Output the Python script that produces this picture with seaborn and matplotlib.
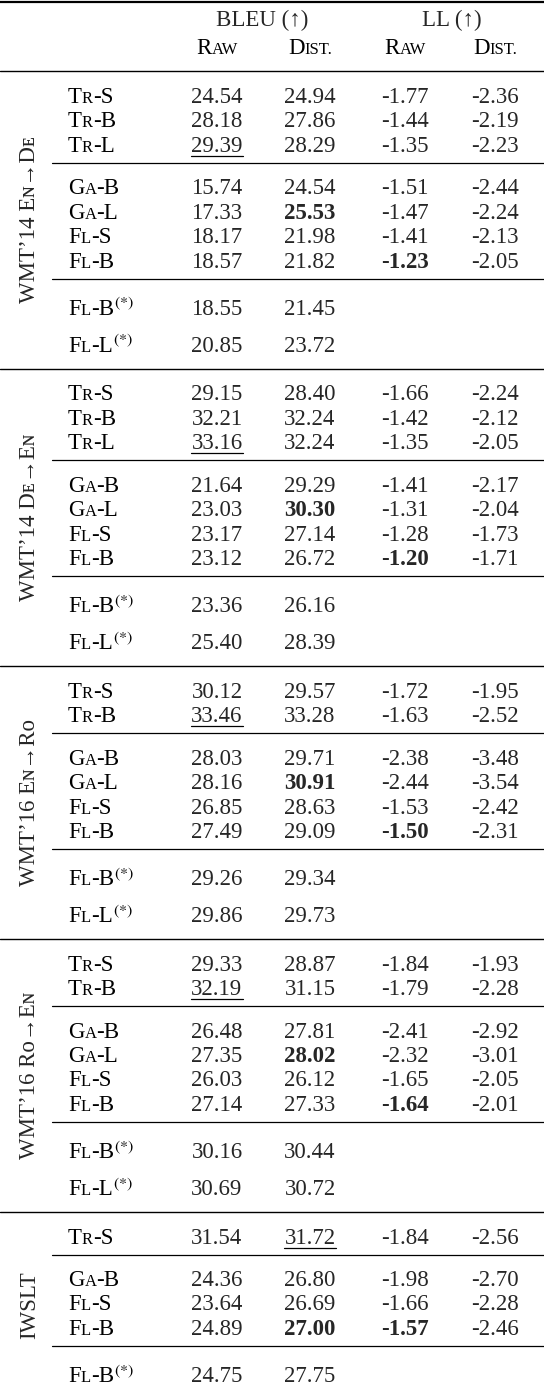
import matplotlib
matplotlib.use("Agg")
import matplotlib.pyplot as plt
import seaborn as sns

sns.set_theme(style="white")
plt.rcParams['font.family'] = ['Liberation Serif', 'DejaVu Serif', 'DejaVu Sans']
plt.rcParams['mathtext.fontset'] = 'stix'

# ---- data ----
sec_titles = ["WMT’14 Eɴ→Dᴇ", "WMT’14 Dᴇ→Eɴ", "WMT’16 Eɴ→Rᴏ", "WMT’16 Rᴏ→Eɴ", "IWSLT"]

s1_groups = [["TR-S", "TR-B", "TR-L"], ["GA-B", "GA-L", "FL-S", "FL-B"], ["FL-B*", "FL-L*"]]
s1_bleu_raw = [24.54, 28.18, 29.39, 15.74, 17.33, 18.17, 18.57, 18.55, 20.85]
s1_bleu_dist = [24.94, 27.86, 28.29, 24.54, 25.53, 21.98, 21.82, 21.45, 23.72]
s1_ll_raw = [-1.77, -1.44, -1.35, -1.51, -1.47, -1.41, -1.23, None, None]
s1_ll_dist = [-2.36, -2.19, -2.23, -2.44, -2.24, -2.13, -2.05, None, None]

s2_groups = s1_groups
s2_bleu_raw = [29.15, 32.21, 33.16, 21.64, 23.03, 23.17, 23.12, 23.36, 25.40]
s2_bleu_dist = [28.40, 32.24, 32.24, 29.29, 30.30, 27.14, 26.72, 26.16, 28.39]
s2_ll_raw = [-1.66, -1.42, -1.35, -1.41, -1.31, -1.28, -1.20, None, None]
s2_ll_dist = [-2.24, -2.12, -2.05, -2.17, -2.04, -1.73, -1.71, None, None]

s3_groups = [["TR-S", "TR-B"], ["GA-B", "GA-L", "FL-S", "FL-B"], ["FL-B*", "FL-L*"]]
s3_bleu_raw = [30.12, 33.46, 28.03, 28.16, 26.85, 27.49, 29.26, 29.86]
s3_bleu_dist = [29.57, 33.28, 29.71, 30.91, 28.63, 29.09, 29.34, 29.73]
s3_ll_raw = [-1.72, -1.63, -2.38, -2.44, -1.53, -1.50, None, None]
s3_ll_dist = [-1.95, -2.52, -3.48, -3.54, -2.42, -2.31, None, None]

s4_groups = s3_groups
s4_bleu_raw = [29.33, 32.19, 26.48, 27.35, 26.03, 27.14, 30.16, 30.69]
s4_bleu_dist = [28.87, 31.15, 27.81, 28.02, 26.12, 27.33, 30.44, 30.72]
s4_ll_raw = [-1.84, -1.79, -2.41, -2.32, -1.65, -1.64, None, None]
s4_ll_dist = [-1.93, -2.28, -2.92, -3.01, -2.05, -2.01, None, None]

s5_groups = [["TR-S"], ["GA-B", "FL-S", "FL-B"], ["FL-B*"]]
s5_bleu_raw = [31.54, 24.36, 23.64, 24.89, 24.75]
s5_bleu_dist = [31.72, 26.80, 26.69, 27.00, 27.75]
s5_ll_raw = [-1.84, -1.98, -1.66, -1.57, None]
s5_ll_dist = [-2.56, -2.70, -2.28, -2.46, None]

# emphasis: (column index, row index)
s1_under = [(0, 2)]; s1_bold = [(1, 4), (2, 6)]
s2_under = [(0, 2)]; s2_bold = [(1, 4), (2, 6)]
s3_under = [(0, 1)]; s3_bold = [(1, 3), (2, 5)]
s4_under = [(0, 1)]; s4_bold = [(1, 3), (2, 5)]
s5_under = [(1, 0)]; s5_bold = [(1, 3), (2, 3)]

sections = [
    (s1_groups, [s1_bleu_raw, s1_bleu_dist, s1_ll_raw, s1_ll_dist], s1_under, s1_bold),
    (s2_groups, [s2_bleu_raw, s2_bleu_dist, s2_ll_raw, s2_ll_dist], s2_under, s2_bold),
    (s3_groups, [s3_bleu_raw, s3_bleu_dist, s3_ll_raw, s3_ll_dist], s3_under, s3_bold),
    (s4_groups, [s4_bleu_raw, s4_bleu_dist, s4_ll_raw, s4_ll_dist], s4_under, s4_bold),
    (s5_groups, [s5_bleu_raw, s5_bleu_dist, s5_ll_raw, s5_ll_dist], s5_under, s5_bold),
]

# ---- drawing ----
W, H = 544, 1388
fig = plt.figure(figsize=(W / 100, H / 100), dpi=100)
ax = fig.add_axes([0, 0, 1, 1])
ax.set_xlim(0, W); ax.set_ylim(H, 0); ax.axis('off')
renderer = fig.canvas.get_renderer()

BIG, SMALL = 16.5, 12.0
col_x = [217, 310, 405, 495]


def seg_width(txt, size, weight='normal'):
    t = ax.text(0, 0, txt, fontsize=size, fontweight=weight)
    w = t.get_window_extent(renderer).width
    t.remove()
    return w


def draw_segs(segs, x, y, align='left'):
    widths = [seg_width(s, sz) for s, sz in segs]
    total = sum(widths)
    if align == 'center':
        x = x - total / 2
    for (s, sz), w in zip(segs, widths):
        ax.text(x, y, s, fontsize=sz, ha='left', va='baseline', color='black')
        x += w


def model_segs(name):
    star = name.endswith('*')
    name = name.rstrip('*')
    pre, post = name.split('-')
    segs = [(pre[0], BIG), (pre[1:].upper(), SMALL), ('-' + post, BIG)]
    if star:
        segs.append((r'$^{(*)}$', BIG))
    return segs


# header
ax.plot([0, W], [2, 2], color='black', lw=1.6)
ax.text(262, 20, 'BLEU (↑)', fontsize=BIG, ha='center', va='center')
ax.text(452, 20, 'LL (↑)', fontsize=BIG, ha='center', va='center')
for cx in (col_x[0], col_x[2]):
    draw_segs([('R', BIG), ('AW', SMALL)], cx, 54, align='center')
for cx in (col_x[1], col_x[3]):
    draw_segs([('D', BIG), ('IST.', SMALL)], cx, 54, align='center')
ax.plot([0, W], [71, 71], color='black', lw=1.0)

y_line = 71
for si, (groups, cols, under, bold) in enumerate(sections):
    sec_top = y_line
    ridx = 0
    for gi, g in enumerate(groups):
        star = g[0].endswith('*')
        step = 37 if star else 24.5
        y = y_line + (30 if star else 25.5)
        for name in g:
            draw_segs(model_segs(name), 68, y + 6)
            for ci, vals in enumerate(cols):
                v = vals[ridx]
                if v is None:
                    continue
                wt = 'bold' if (ci, ridx) in bold else 'normal'
                txt = f'{v:.2f}'
                ax.text(col_x[ci], y + 6, txt, fontsize=BIG, ha='center',
                        va='baseline', fontweight=wt)
                if (ci, ridx) in under:
                    w = seg_width(txt, BIG)
                    ax.plot([col_x[ci] - w / 2, col_x[ci] + w / 2], [y + 10, y + 10],
                            color='black', lw=0.9)
            ridx += 1
            y += step
        y_last = y - step
        if gi < len(groups) - 1:
            y_line = y_last + 17
            ax.plot([52, W], [y_line, y_line], color='black', lw=0.9)
        else:
            y_line = y_last + 23
            last = si == len(sections) - 1
            ax.plot([0, W], [y_line, y_line], color='black', lw=1.6 if last else 1.0)
    mid = (sec_top + y_line) / 2
    ax.text(30, mid, sec_titles[si], fontsize=BIG, rotation=90,
            ha='center', va='center')

fig.savefig('out.png', dpi=100)
